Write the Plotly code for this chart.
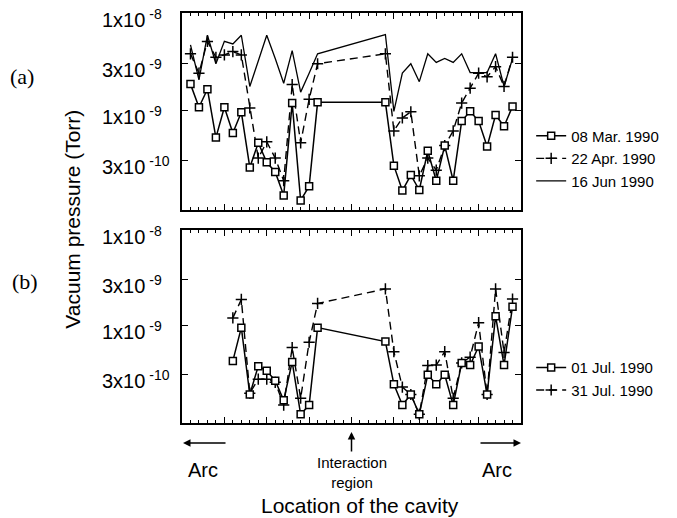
import math
import plotly.graph_objects as go

# Cavity locations (index along the ring) and measured pressures (Torr)
loc_a = [1, 2, 3, 4, 5, 6, 7, 8, 9, 10, 11, 12, 13, 14, 15, 16,
         24, 25, 26, 27, 28, 29, 30, 31, 32, 33, 34, 35, 36, 37, 38, 39]
mar08 = [1.85e-9, 1.07e-9, 1.64e-9, 5.2e-10, 1.07e-9, 5.8e-10, 9.5e-10, 2.56e-10,
         4.6e-10, 2.9e-10, 2.3e-10, 1.32e-10, 1.18e-9, 1.17e-10, 1.64e-10, 1.2e-9,
         1.2e-9, 2.67e-10, 1.48e-10, 2.14e-10, 1.5e-10, 3.8e-10, 1.87e-10, 4.3e-10,
         1.87e-10, 7.7e-10, 9.7e-10, 7.7e-10, 4.2e-10, 8.9e-10, 6.8e-10, 1.09e-9]
apr22 = [3.8e-9, 2.4e-9, 5.1e-9, 3.5e-9, 3.7e-9, 4.0e-9, 3.7e-9, 1.05e-9,
         3.2e-10, 4.7e-10, 3.2e-10, 1.87e-10, 1.83e-9, 4.6e-10, 1.29e-9, 3.0e-9,
         3.8e-9, 6.1e-10, 8.3e-10, 9.6e-10, 2.1e-10, 3.2e-10, 2.4e-10, 4.3e-10,
         6.1e-10, 1.18e-9, 1.68e-9, 2.4e-9, 2.2e-9, 2.8e-9, 1.75e-9, 3.5e-9]
jun16 = [4.7e-9, 2.05e-9, 5.9e-9, 3.0e-9, 5.1e-9, 4.8e-9, 5.9e-9, 1.75e-9,
         3.2e-9, 5.9e-9, 3.4e-9, 1.89e-9, 4.1e-9, 1.53e-9, 2.4e-9, 3.8e-9,
         6.0e-9, 9.7e-10, 2.4e-9, 3.0e-9, 1.96e-9, 3.8e-9, 3.1e-9, 3.4e-9,
         3.1e-9, 3.8e-9, 2.43e-9, 2.43e-9, 2.43e-9, 3.8e-9, 1.75e-9, 3.4e-9]

loc_b = [6, 7, 8, 9, 10, 11, 12, 13, 14, 15, 16,
         24, 25, 26, 27, 28, 29, 30, 31, 32, 33, 34, 35, 36, 37, 38, 39]
jul01 = [4.2e-10, 9.4e-10, 1.86e-10, 3.7e-10, 3.3e-10, 2.6e-10, 1.62e-10, 4.1e-10,
         1.15e-10, 1.44e-10, 9.4e-10,
         6.7e-10, 2.38e-10, 1.44e-10, 1.86e-10, 1.15e-10, 3.0e-10, 2.38e-10, 3.0e-10,
         1.44e-10, 4.0e-10, 3.8e-10, 5.95e-10, 1.86e-10, 1.24e-9, 3.8e-10, 1.56e-9]
jul31 = [1.19e-9, 1.86e-9, 1.92e-10, 2.7e-10, 2.7e-10, 2.5e-10, 1.44e-10, 5.8e-10,
         1.7e-10, 6.6e-10, 1.69e-9,
         2.4e-9, 5.25e-10, 2.23e-10, 1.86e-10, 1.15e-10, 3.75e-10, 3.8e-10, 5.25e-10,
         1.7e-10, 4.0e-10, 4.6e-10, 1.06e-9, 1.86e-10, 2.4e-9, 5.15e-10, 1.88e-9]

y_tick_vals = [1e-8, 3e-9, 1e-9, 3e-10]
y_tick_text = ["1x10<sup> -8</sup>", "3x10<sup> -9</sup>", "1x10<sup> -9</sup>", "3x10<sup> -10</sup>"]

SANS = "Liberation Sans, Arial, sans-serif"
SERIF = "Liberation Serif, Times New Roman, serif"

square_marker = dict(symbol="square", size=7, color="white",
                     line=dict(color="black", width=1.5))
cross_marker = dict(symbol="cross-thin", size=8, color="black",
                    line=dict(color="black", width=1.5))

fig = go.Figure()

# Panel (a)
fig.add_trace(go.Scatter(x=loc_a, y=jun16, name="16 Jun 1990", mode="lines",
                         line=dict(color="black", width=1.3),
                         xaxis="x", yaxis="y", legend="legend", legendrank=3))
fig.add_trace(go.Scatter(x=loc_a, y=apr22, name="22 Apr. 1990", mode="lines+markers",
                         line=dict(color="black", width=1.4, dash="8px,5px"),
                         marker=cross_marker,
                         xaxis="x", yaxis="y", legend="legend", legendrank=2))
fig.add_trace(go.Scatter(x=loc_a, y=mar08, name="08 Mar. 1990", mode="lines+markers",
                         line=dict(color="black", width=1.5),
                         marker=square_marker,
                         xaxis="x", yaxis="y", legend="legend", legendrank=1))

# Panel (b)
fig.add_trace(go.Scatter(x=loc_b, y=jul31, name="31 Jul. 1990", mode="lines+markers",
                         line=dict(color="black", width=1.4, dash="8px,5px"),
                         marker=cross_marker,
                         xaxis="x2", yaxis="y2", legend="legend2", legendrank=2))
fig.add_trace(go.Scatter(x=loc_b, y=jul01, name="01 Jul. 1990", mode="lines+markers",
                         line=dict(color="black", width=1.5),
                         marker=square_marker,
                         xaxis="x2", yaxis="y2", legend="legend2", legendrank=1))

xaxis_style = dict(range=[0, 40], showline=True, linecolor="black", linewidth=1.6,
                   mirror="ticks", ticks="inside", tick0=0, dtick=5, ticklen=6,
                   tickwidth=1.2, tickcolor="black", showticklabels=False,
                   showgrid=False, zeroline=False, automargin=False,
                   minor=dict(dtick=1, ticks="inside", ticklen=3, tickwidth=1,
                              tickcolor="black", showgrid=False))
yaxis_style = dict(type="log", range=[-10.03, -8.0], showline=True, linecolor="black",
                   linewidth=1.6, mirror="ticks", ticks="inside", ticklen=6,
                   tickwidth=1.2, tickcolor="black", tickvals=y_tick_vals,
                   showticklabels=False, showgrid=False, zeroline=False,
                   automargin=False)

fig.update_layout(
    template="none",
    width=677, height=518,
    margin=dict(l=182, r=156, t=13, b=95, autoexpand=False),
    paper_bgcolor="white", plot_bgcolor="white",
    font=dict(family=SANS, color="black"),
    xaxis=dict(domain=[0, 1], anchor="y", **xaxis_style),
    yaxis=dict(domain=[0.5195, 1], anchor="x", **yaxis_style),
    xaxis2=dict(domain=[0, 1], anchor="y2", **xaxis_style),
    yaxis2=dict(domain=[0, 0.4707], anchor="x2", **yaxis_style),
    legend=dict(x=1.03, y=0.74, xanchor="left", yanchor="top",
                font=dict(family=SANS, size=15, color="black"),
                bgcolor="rgba(0,0,0,0)", itemwidth=30, tracegroupgap=0),
    legend2=dict(x=1.03, y=0.175, xanchor="left", yanchor="top",
                 font=dict(family=SANS, size=15, color="black"),
                 bgcolor="rgba(0,0,0,0)", itemwidth=30, tracegroupgap=0),
    showlegend=True,
)

annotations = []
# y tick labels (placed slightly below each tick, as in the original figure)
for yref in ("y", "y2"):
    for val, txt in zip(y_tick_vals, y_tick_text):
        annotations.append(dict(text=txt, x=-0.242, y=math.log10(val), xref="paper",
                                yref=yref, showarrow=False, xanchor="left",
                                yanchor="middle", yshift=-5,
                                font=dict(family=SANS, size=20, color="black")))

annotations += [
    dict(text="(a)", x=-0.472, y=0.844, xref="paper", yref="paper", showarrow=False,
         font=dict(family=SERIF, size=22), xanchor="center", yanchor="middle"),
    dict(text="(b)", x=-0.463, y=0.344, xref="paper", yref="paper", showarrow=False,
         font=dict(family=SERIF, size=22), xanchor="center", yanchor="middle"),
    dict(text="Vacuum pressure (Torr)", x=-0.322, y=0.498, xref="paper", yref="paper",
         showarrow=False, textangle=-90, font=dict(family=SANS, size=21),
         xanchor="center", yanchor="middle"),
    dict(text="Arc", x=0.062, y=-0.115, xref="paper", yref="paper", showarrow=False,
         font=dict(family=SANS, size=20), xanchor="center", yanchor="middle"),
    dict(text="Arc", x=0.929, y=-0.115, xref="paper", yref="paper", showarrow=False,
         font=dict(family=SANS, size=20), xanchor="center", yanchor="middle"),
    dict(text="Interaction<br>region", x=0.50, y=-0.12, xref="paper", yref="paper",
         showarrow=False, font=dict(family=SANS, size=15), xanchor="center",
         yanchor="middle"),
    dict(text="Location of the cavity", x=0.525, y=-0.2, xref="paper", yref="paper",
         showarrow=False, font=dict(family=SANS, size=21), xanchor="center",
         yanchor="middle"),
    # arrows
    dict(text="", x=0.003, y=-0.049, xref="paper", yref="paper", showarrow=True,
         ax=44, ay=0, arrowhead=2, arrowsize=1, arrowwidth=1.5, arrowcolor="black"),
    dict(text="", x=1.0, y=-0.049, xref="paper", yref="paper", showarrow=True,
         ax=-42, ay=0, arrowhead=2, arrowsize=1, arrowwidth=1.5, arrowcolor="black"),
    dict(text="", x=20, y=-0.022, xref="x2", yref="paper", showarrow=True,
         ax=0, ay=21, arrowhead=2, arrowsize=1, arrowwidth=1.5, arrowcolor="black"),
]
fig.update_layout(annotations=annotations)

fig.write_html("out.html", config={"displayModeBar": False},
               post_script="document.body.style.margin='0px';document.body.style.overflow='hidden';")
